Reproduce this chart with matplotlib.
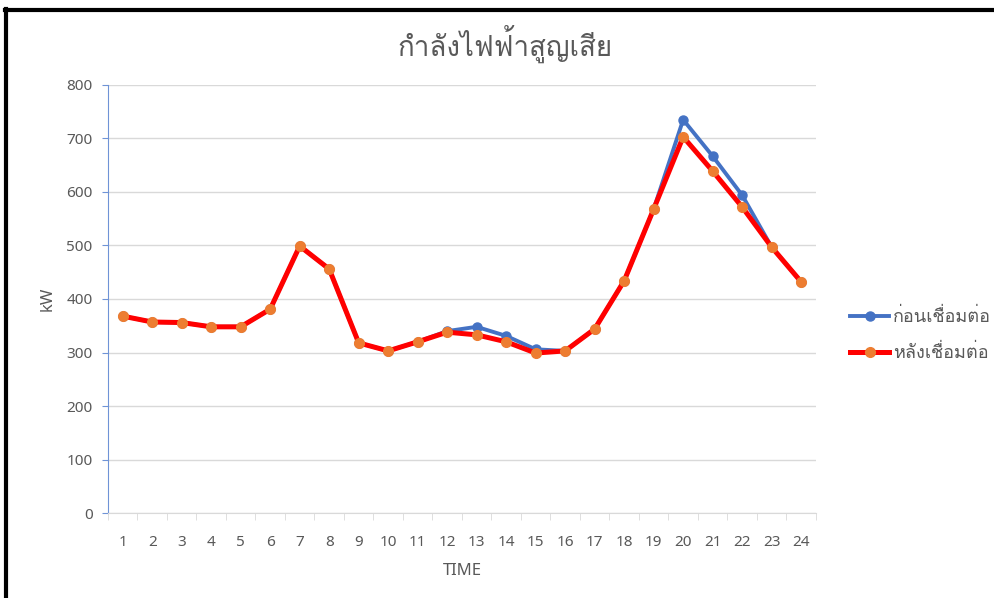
import matplotlib
matplotlib.use('Agg')
import matplotlib.pyplot as plt
from matplotlib import font_manager
from matplotlib.ft2font import FT2Font
from matplotlib.lines import Line2D
import numpy as np

# hourly power loss (kW)
hours = list(range(1, 25))
before = [368, 357, 356, 348, 348, 381, 499, 456, 318, 303, 320, 340,
          348, 331, 306, 303, 344, 434, 568, 735, 667, 594, 497, 432]
after = [368, 357, 356, 348, 348, 381, 499, 456, 318, 303, 320, 338,
         333, 320, 299, 303, 344, 434, 568, 703, 639, 572, 497, 432]

title = 'กำลังไฟฟ้าสูญเสีย'
label_before = 'ก่อนเชื่อมต่อ'
label_after = 'หลังเชื่อมต่อ'


# look for an installed font that covers Thai
def find_thai_family():
    for f in font_manager.fontManager.ttflist:
        try:
            if ord('ก') in FT2Font(f.fname).get_charmap():
                return f.name
        except Exception:
            continue
    return None


thai = find_thai_family()
families = ['Noto Sans', 'DejaVu Sans']
if thai:
    families.insert(1, thai)
plt.rcParams['font.family'] = families

text_gray = '#595959'
blue = '#4472C4'
red = '#FF0000'
orange = '#ED7D31'

fig = plt.figure(figsize=(9.95, 5.98), dpi=100)
ax = fig.add_axes([0.1085, 0.1421, 0.7115, 0.7158])

ax.plot(hours, before, color=blue, lw=2.8, marker='o', ms=6.5,
        mfc=blue, mec=blue, label=label_before, zorder=3)
ax.plot(hours, after, color=red, lw=3.6, marker='o', ms=7,
        mfc=orange, mec=orange, label=label_after, zorder=4)

ax.set_xlim(0.5, 24.5)
ax.set_ylim(0, 800)
ax.set_yticks(np.arange(0, 801, 100))
ax.set_xticks(hours)
ax.set_xticks(np.arange(0.5, 25, 1), minor=True)
ax.grid(axis='y', color='#D9D9D9', lw=1)
ax.set_axisbelow(True)

for s in ['top', 'right']:
    ax.spines[s].set_visible(False)
ax.spines['left'].set_color('#6F93D6')
ax.spines['bottom'].set_color('#D9D9D9')

ax.tick_params(axis='y', colors='#6F93D6', labelcolor=text_gray,
               labelsize=11, length=4, direction='out', pad=7)
ax.tick_params(axis='x', which='major', length=0, labelcolor=text_gray,
               labelsize=11, pad=16)
ax.tick_params(axis='x', which='minor', length=5, color='#D9D9D9')

ax.set_xlabel('TIME', color=text_gray, fontsize=12, labelpad=9)
ax.set_ylabel('kW', color=text_gray, fontsize=12, labelpad=8)

# title is centred over the whole chart, not the plot area
fig.text(0.508, 0.926, title, color=text_gray, fontsize=20,
         ha='center', va='center')

ax.legend(loc='center left', bbox_to_anchor=(1.035, 0.416), frameon=False,
          fontsize=13, labelcolor=text_gray, handlelength=2.2,
          handletextpad=0.2, labelspacing=1.0, borderpad=0)

# screenshot border (top and left)
fig.add_artist(Line2D([0.0065, 0.0065], [0, 0.985], color='black', lw=3,
                      transform=fig.transFigure))
fig.add_artist(Line2D([0.005, 1.0], [0.983, 0.983], color='black', lw=3,
                      transform=fig.transFigure))

fig.savefig('out.png', dpi=100)
